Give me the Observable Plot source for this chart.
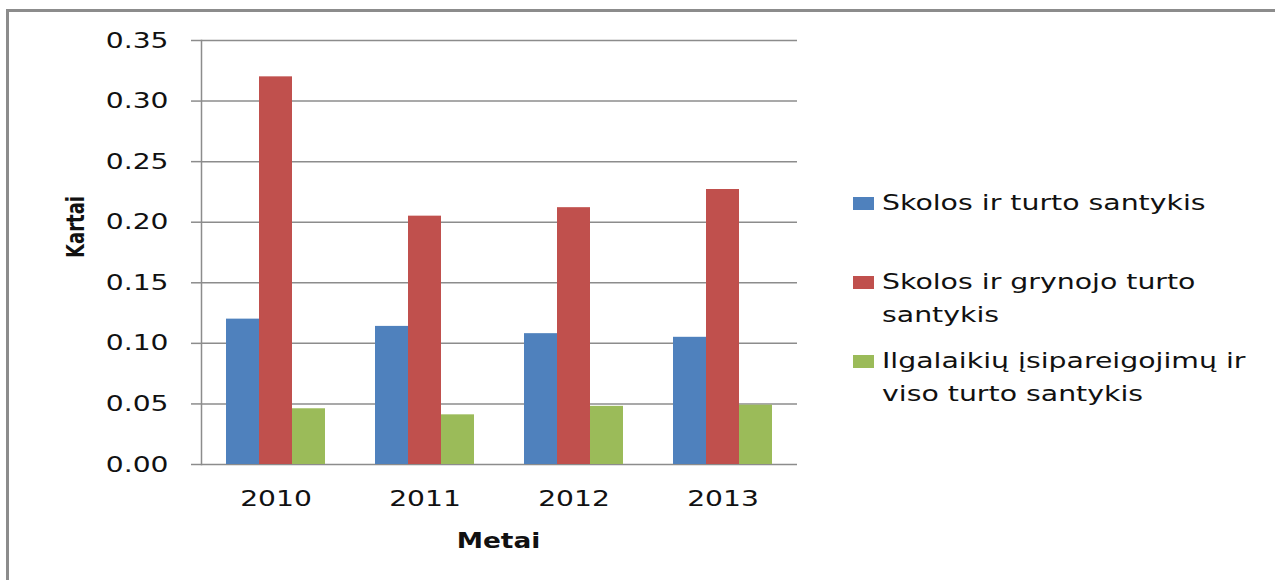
<!DOCTYPE html>
<html><head><meta charset="utf-8">
<script src="https://cdn.jsdelivr.net/npm/d3@7"></script>
<script src="https://cdn.jsdelivr.net/npm/@observablehq/plot@0.6"></script>
<style>
html,body{margin:0;padding:0;background:#fff;}
#wrap{position:relative;width:1275px;height:580px;overflow:hidden;font-family:"DejaVu Sans",sans-serif;background:#fff;}
#border{position:absolute;left:6px;top:9px;width:1400px;height:700px;border-top:3px solid #8c8c8c;border-left:3px solid #8c8c8c;}
#chart{position:absolute;left:0;top:0;}
#legend{position:absolute;left:853px;top:187px;}
.item{position:relative;height:79px;}
.sw{position:absolute;left:0;top:10px;width:21px;height:13px;}
.lab{position:absolute;left:29px;top:0;width:290px;font-size:21px;line-height:33px;color:#111;transform:scaleX(1.35);transform-origin:0 0;white-space:normal;}
</style></head>
<body><div id="wrap"><div id="border"></div><div id="chart"></div><div id="legend"></div></div>
<script>
const years = ["2010", "2011", "2012", "2013"];
const series = ["Skolos ir turto santykis", "Skolos ir grynojo turto santykis", "Ilgalaikių įsipareigojimų ir viso turto santykis"];
const debtToAssets = [0.120, 0.114, 0.108, 0.105];
const debtToEquity = [0.320, 0.205, 0.212, 0.227];
const longTermToAssets = [0.046, 0.041, 0.048, 0.049];
const colors = ["#4F81BD", "#C0504D", "#9BBB59"];
const yTicks = [0, 0.05, 0.10, 0.15, 0.20, 0.25, 0.30, 0.35];
const xTitle = "Metai";
const yTitle = "Kartai";

const seriesValues = [debtToAssets, debtToEquity, longTermToAssets];
const data = years.flatMap((year, i) => series.map((s, j) => ({year, series: s, value: seriesValues[j][i]})));
const gray = "#8c8c8c";

const plot = Plot.plot({
  width: 800, height: 580,
  marginLeft: 200, marginRight: 3, marginTop: 40, marginBottom: 116,
  style: {fontFamily: "DejaVu Sans, sans-serif", fontSize: "22px", color: "#111", background: "transparent"},
  fx: {domain: years, padding: 0, label: null},
  x: {domain: series, paddingInner: 0, paddingOuter: 0.75, axis: null},
  y: {domain: [0, 0.35], label: null},
  color: {domain: series, range: colors},
  marks: [
    Plot.gridY(yTicks, {stroke: gray, strokeOpacity: 1, strokeWidth: 1.5}),
    Plot.barY(data, {fx: "year", x: "series", y: "value", fill: "series"}),
    Plot.axisY(yTicks, {tickFormat: d3.format(".2f"), tickSize: 10, tickPadding: 23, stroke: gray, strokeWidth: 1.5, fill: "#111", fontSize: 22, label: null}),
    Plot.axisFx({anchor: "bottom", tickSize: 0, tickPadding: 26, fontSize: 22, label: null, fill: "#111"}),
    Plot.frame({anchor: "left", facetAnchor: "left", stroke: gray, strokeWidth: 1.5})
  ]
});
document.getElementById("chart").appendChild(plot);

// stretch tick labels horizontally like the reference
plot.querySelectorAll("text").forEach(t => {
  if (t.querySelector("tspan")) return;
  const w = t.getComputedTextLength();
  t.setAttribute("textLength", w * 1.28);
  t.setAttribute("lengthAdjust", "spacingAndGlyphs");
});

const svg = d3.select(plot);
const mt = svg.append("text")
  .attr("x", (200 + 797) / 2).attr("y", 548)
  .attr("text-anchor", "middle")
  .attr("font-family", "DejaVu Sans, sans-serif")
  .attr("font-weight", "bold").attr("font-size", 22).attr("fill", "#111")
  .text(xTitle);
mt.attr("textLength", mt.node().getComputedTextLength() * 1.2).attr("lengthAdjust", "spacingAndGlyphs");

const kt = svg.append("text")
  .attr("transform", "translate(84,227) rotate(-90)")
  .attr("text-anchor", "middle")
  .attr("font-family", "DejaVu Sans, sans-serif")
  .attr("font-weight", "bold").attr("font-size", 25).attr("fill", "#111")
  .text(yTitle);
kt.attr("textLength", 62).attr("lengthAdjust", "spacingAndGlyphs");

// legend
const legend = d3.select("#legend");
series.forEach((s, i) => {
  const item = legend.append("div").attr("class", "item");
  item.append("div").attr("class", "sw").style("background", colors[i]);
  item.append("div").attr("class", "lab").text(s);
});
</script>
</body></html>
